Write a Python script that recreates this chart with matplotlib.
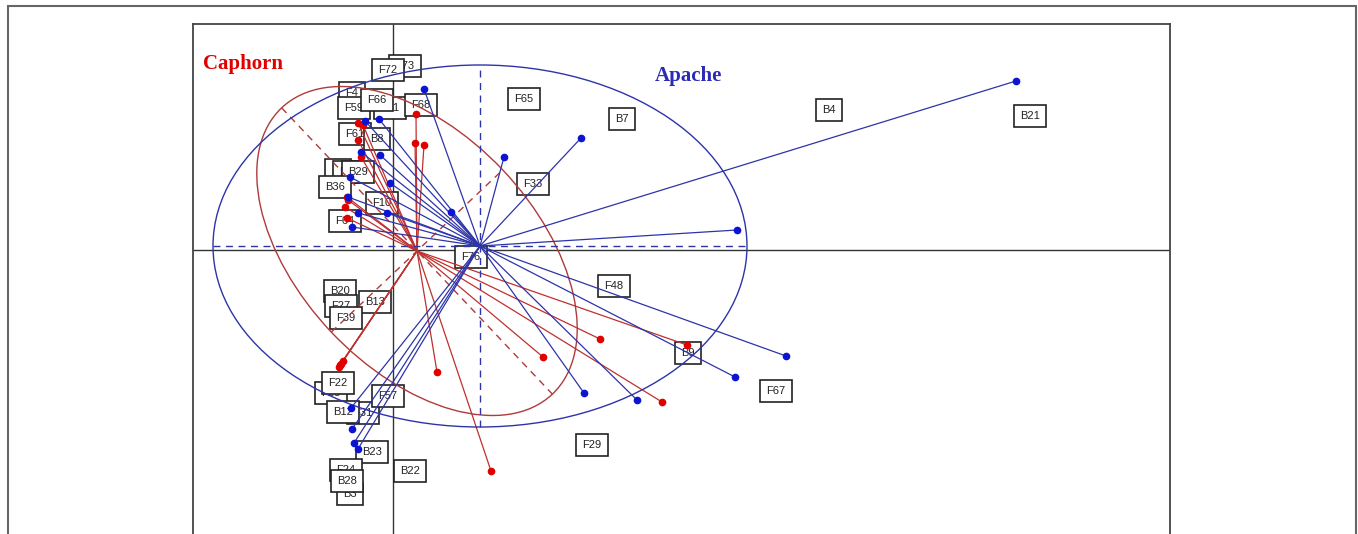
import matplotlib.pyplot as plt
from matplotlib.patches import Ellipse, Rectangle
import numpy as np

# class scores on the first two axes
apache_x = [6.23, 3.44, 1.88, 1.11, 0.31, 0.58, 3.93, 3.42, 2.44, 1.91,
            -0.28, -0.14, -0.32, -0.13, -0.03, -0.43, -0.45, -0.35, -0.06, -0.41,
            -0.42, -0.41, -0.39, -0.35]
apache_y = [1.69, 0.20, 1.12, 0.93, 1.61, 0.38, -1.06, -1.27, -1.50, -1.43,
            1.29, 1.31, 0.98, 0.95, 0.67, 0.73, 0.53, 0.37, 0.37, 0.23,
            -1.58, -1.79, -1.93, -1.99]
caphorn_x = [-0.35, -0.30, 0.23, 0.22, 0.31, -0.35, -0.32, -0.46, -0.45, -0.48, -0.46,
             -0.54, -0.52, -0.50, -0.53, 0.44, 0.98, 2.07, 1.50, 2.94, 2.69]
caphorn_y = [1.27, 1.25, 1.36, 1.07, 1.05, 1.10, 0.93, 0.53, 0.50, 0.43, 0.32,
             -1.17, -1.14, -1.11, -1.15, -1.22, -2.21, -0.89, -1.07, -0.95, -1.52]

# centroid, ellipse semi-axes (major, minor) and angle of each class
apache_center = (0.87, 0.04)
apache_axes = (2.67, 1.81, 0.0)
caphorn_center = (0.24, -0.01)
caphorn_axes = (1.97, 1.18, -46.6)

# sample labels
lab_names = ["F73", "F72", "F4", "F41", "F59", "F66", "F68", "F61", "B8",
             "F5", "F9", "B29", "B36", "F10", "F64", "F76",
             "F65", "B7", "F33", "B4", "B21", "F48", "B9", "F67", "F29",
             "B20", "F27", "B13", "F39", "F23", "F22", "F31", "B12", "F57",
             "B23", "B22", "B3", "F24", "B28"]
lab_x = [0.12, -0.05, -0.41, -0.03, -0.39, -0.16, 0.28, -0.38, -0.16,
         -0.55, -0.47, -0.35, -0.58, -0.11, -0.48, 0.78,
         1.31, 2.29, 1.40, 4.36, 6.37, 2.21, 2.95, 3.83, 1.99,
         -0.53, -0.52, -0.18, -0.47, -0.62, -0.55, -0.30, -0.50, -0.05,
         -0.21, 0.17, -0.43, -0.47, -0.46]
lab_y = [1.84, 1.80, 1.57, 1.42, 1.42, 1.50, 1.45, 1.16, 1.11,
         0.80, 0.78, 0.78, 0.63, 0.47, 0.29, -0.07,
         1.51, 1.31, 0.66, 1.40, 1.34, -0.36, -1.03, -1.41, -1.95,
         -0.41, -0.56, -0.52, -0.68, -1.43, -1.33, -1.63, -1.62, -1.46,
         -2.02, -2.21, -2.44, -2.20, -2.31]

fig = plt.figure(figsize=(13.58, 5.34), dpi=100)
ax = fig.add_axes([193 / 1358, -26 / 534, 977 / 1358, 536 / 534])
ax.set_xlim(-2.0, 7.77)
ax.set_ylim(-3.10, 2.26)
ax.set_xticks([])
ax.set_yticks([])
for s in ax.spines.values():
    s.set_color("#444444")
    s.set_linewidth(1.3)

# outer frame
fig.add_artist(Rectangle((8 / 1358, -0.1), 1348 / 1358, 1.1 - 6 / 534,
                         transform=fig.transFigure, fill=False,
                         edgecolor="#666666", linewidth=1.5))

ax.axhline(0, color="#333333", lw=1.0, zorder=1)
ax.axvline(0, color="#333333", lw=1.0, zorder=1)

# labels first, classes drawn on top
for name, x, y in zip(lab_names, lab_x, lab_y):
    ax.text(x, y, name, ha="center", va="center", fontsize=8,
            family="Liberation Sans", color="#222222", zorder=2,
            bbox=dict(boxstyle="square,pad=0.55", fc="white", ec="#222222", lw=1.2))


def draw_class(xs, ys, center, axes, line_col, pt_col, ell_col):
    cx, cy = center
    a, b, ang = axes
    for x, y in zip(xs, ys):
        ax.plot([cx, x], [cy, y], color=line_col, lw=0.9, zorder=3)
    ax.plot(xs, ys, "o", color=pt_col, ms=4.5, zorder=4)
    ax.add_patch(Ellipse((cx, cy), 2 * a, 2 * b, angle=ang, fill=False,
                         edgecolor=ell_col, lw=1.0, zorder=3))
    t = np.deg2rad(ang)
    u = np.array([np.cos(t), np.sin(t)])
    v = np.array([-np.sin(t), np.cos(t)])
    for vec, r in ((u, a), (v, b)):
        ax.plot([cx - r * vec[0], cx + r * vec[0]], [cy - r * vec[1], cy + r * vec[1]],
                color=ell_col, lw=1.0, ls=(0, (5, 4)), zorder=3)


draw_class(caphorn_x, caphorn_y, caphorn_center, caphorn_axes, "#c0302e", "#e00000", "#b03a3a")
draw_class(apache_x, apache_y, apache_center, apache_axes, "#2d34a8", "#0a14d2", "#2d34a8")

ax.text(-1.50, 1.86, "Caphorn", color="#e00000", fontsize=15, fontweight="bold",
        family="Liberation Serif", ha="center", va="center", zorder=5)
ax.text(2.95, 1.74, "Apache", color="#2b2bb5", fontsize=15, fontweight="bold",
        family="Liberation Serif", ha="center", va="center", zorder=5)

fig.savefig("out.png", dpi=100)
